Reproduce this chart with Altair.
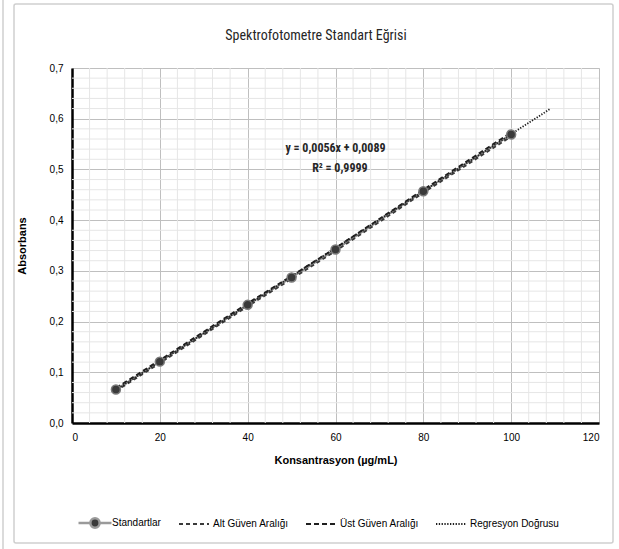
import altair as alt
import pandas as pd

# ---- data ----
konsantrasyon = [10, 20, 40, 50, 60, 80, 100]
absorbans = [0.066, 0.121, 0.233, 0.287, 0.342, 0.457, 0.569]
alt_guven = [0.063, 0.118, 0.230, 0.284, 0.339, 0.454, 0.565]
ust_guven = [0.069, 0.124, 0.236, 0.290, 0.345, 0.460, 0.573]
reg_x = [10, 109]
reg_y = [0.065, 0.620]

x_major = [0, 20, 40, 60, 80, 100, 120]
y_major = [0.0, 0.1, 0.2, 0.3, 0.4, 0.5, 0.6, 0.7]
x_minor = [v for v in range(0, 121, 4) if v % 20 != 0]
y_minor = [round(i * 0.02, 2) for i in range(36) if i % 5 != 0]

TITLE = "Spektrofotometre Standart Eğrisi"
FONT = "Liberation Sans Narrow, Roboto Condensed, DejaVu Sans Condensed, Open Sans, sans-serif"
TXT = "#262626"

std_df = pd.DataFrame({"x": konsantrasyon, "y": absorbans, "seri": "Standartlar"})
band_df = pd.concat([
    pd.DataFrame({"x": konsantrasyon, "y": alt_guven, "seri": "Alt Güven Aralığı"}),
    pd.DataFrame({"x": konsantrasyon, "y": ust_guven, "seri": "Üst Güven Aralığı"}),
    pd.DataFrame({"x": reg_x, "y": reg_y, "seri": "Regresyon Doğrusu"}),
])

xs = alt.Scale(domain=[0, 120], nice=False)
ys = alt.Scale(domain=[0, 0.7], nice=False)

x_axis = alt.Axis(values=x_major, title="Konsantrasyon (µg/mL)", grid=True, gridColor="#bfbfbf",
                  gridWidth=1, ticks=False, domainColor="#000000", domainWidth=2.5,
                  labelPadding=9, titlePadding=12, format="d")
y_axis = alt.Axis(values=y_major, title="Absorbans", grid=True, gridColor="#bfbfbf",
                  gridWidth=1, ticks=False, domainColor="#000000", domainWidth=2.5,
                  labelPadding=9, titlePadding=22,
                  labelExpr="replace(format(datum.value, '.1f'), '.', ',')")

# minor grid
xminor = alt.Chart(pd.DataFrame({"v": x_minor})).mark_rule(color="#e6e6e6", strokeWidth=1).encode(
    x=alt.X("v:Q", scale=xs, axis=x_axis))
yminor = alt.Chart(pd.DataFrame({"v": y_minor})).mark_rule(color="#e6e6e6", strokeWidth=1).encode(
    y=alt.Y("v:Q", scale=ys, axis=y_axis))

# outer frame (decoration) and title
frame = alt.Chart(pd.DataFrame({"a": [0]})).mark_rect(
    fill=None, stroke="#cfcfcf", strokeWidth=1.5, cornerRadius=2
).encode(x=alt.value(-58), x2=alt.value(541), y=alt.value(-64), y2=alt.value(475))
frame2 = alt.Chart(pd.DataFrame({"a": [0]})).mark_rule(color="#cfcfcf", strokeWidth=1.5).encode(
    x=alt.value(-69), y=alt.value(-68), y2=alt.value(481))
title = alt.Chart(pd.DataFrame({"t": [TITLE]})).mark_text(
    font=FONT, fontSize=14, color=TXT, align="center", baseline="middle"
).encode(x=alt.value(244), y=alt.value(-32), text="t:N")

std_line = alt.Chart(std_df).mark_line(color="#8c8c8c", strokeWidth=2).encode(
    x=alt.X("x:Q", scale=xs),
    y=alt.Y("y:Q", scale=ys),
)

band_dom = ["Alt Güven Aralığı", "Üst Güven Aralığı", "Regresyon Doğrusu"]
leg2 = alt.Legend(orient="none", legendX=106, legendY=440, direction="horizontal",
                  title=None, symbolType="stroke", symbolSize=900,
                  symbolStrokeWidth=2, columnPadding=13, labelOffset=3)
lines = alt.Chart(band_df).mark_line(strokeWidth=1.8).encode(
    x=alt.X("x:Q", scale=xs),
    y=alt.Y("y:Q", scale=ys),
    color=alt.Color("seri:N", scale=alt.Scale(domain=band_dom, range=["#3a3a3a", "#1f1f1f", "#1f1f1f"]),
                    legend=leg2),
    strokeDash=alt.StrokeDash("seri:N", scale=alt.Scale(domain=band_dom,
                                                       range=[[4, 3], [5, 3], [1.3, 1.5]]),
                              legend=leg2),
    order=alt.Order("x:Q"),
)

legend_path = "M-1.6,0L-0.5,0M0.5,0L1.6,0M-0.45,0A0.45,0.45,0,1,1,0.45,0A0.45,0.45,0,1,1,-0.45,0Z"
points = alt.Chart(std_df).mark_point(filled=True, size=80, stroke="#7a7a7a", strokeWidth=1.5, opacity=1).encode(
    x=alt.X("x:Q", scale=xs),
    y=alt.Y("y:Q", scale=ys),
    fill=alt.Fill("seri:N", scale=alt.Scale(domain=["Standartlar"], range=["#3a3a3a"]),
                  legend=alt.Legend(orient="none", legendX=11, legendY=443, title=None,
                                    symbolType=legend_path, symbolSize=425,
                                    symbolStrokeColor="#9a9a9a", symbolStrokeWidth=2.5, labelOffset=5)),
)

eq_df = pd.DataFrame({"x": [60, 61], "y": [0.542, 0.503], "t": ["y = 0,0056x + 0,0089", "R² = 0,9999"]})
eq = alt.Chart(eq_df).mark_text(font=FONT, fontSize=12, fontWeight="bold", color=TXT, align="center").encode(
    x=alt.X("x:Q", scale=xs), y=alt.Y("y:Q", scale=ys), text="t:N")

chart = alt.layer(xminor, yminor, frame, frame2, title, std_line, lines, points, eq).properties(
    width=527, height=355,
    autosize=alt.AutoSizeParams(type="none"),
    padding={"left": 72, "top": 68, "right": 20, "bottom": 126},
).configure_view(stroke="#bfbfbf", strokeWidth=1).configure_axis(
    labelFont=FONT, labelFontSize=12, labelColor=TXT, titleFont=FONT, titleFontSize=13,
    titleFontWeight="bold", titleColor=TXT, labelFontWeight="bold"
).configure_legend(labelFont=FONT, labelFontSize=12, labelColor=TXT, labelFontWeight="bold"
).configure(background="white")

chart.save("out.html", embed_options={"renderer": "svg", "actions": False})
